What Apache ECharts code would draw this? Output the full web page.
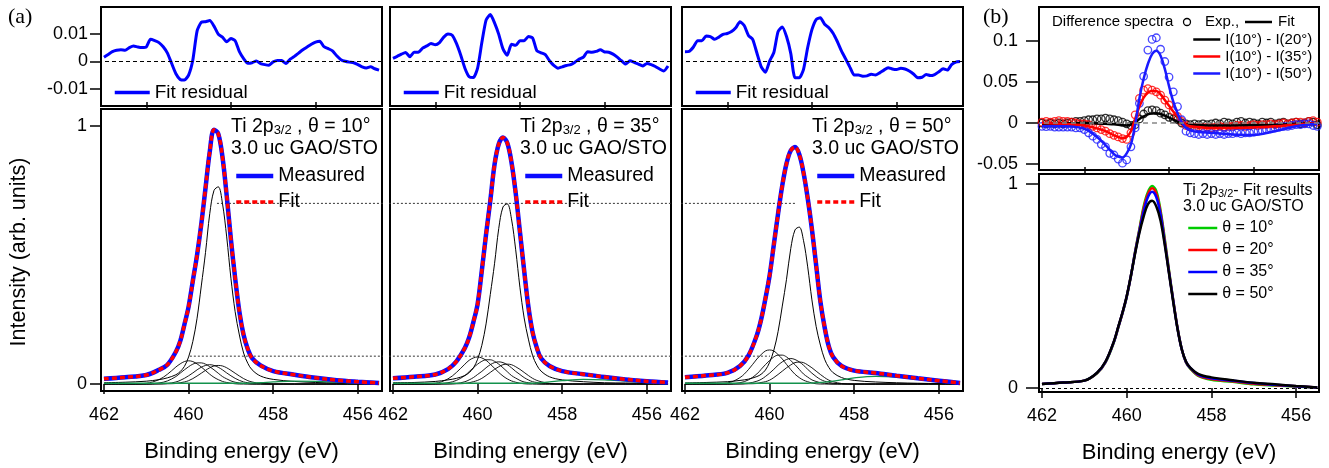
<!DOCTYPE html>
<html><head><meta charset="utf-8">
<script src="https://cdn.jsdelivr.net/npm/echarts@6/dist/echarts.min.js"></script>
<style>html,body{margin:0;padding:0;background:#fff}#c{width:1329px;height:468px}</style>
</head><body><div id="c"></div><script>
// ---------------- DATA ----------------
// energy grid for the fitted spectra (eV)
const E = [462.0,461.5,461.0,460.7,460.5,460.3,460.2,460.1,460.0,459.9,459.8,459.7,459.6,459.5,459.4,459.3,459.2,459.1,459.0,458.9,458.8,458.7,458.6,458.5,458.3,458.0,457.5,457.0,456.5,456.0,455.5];
// measured spectra (fit curves overlap them)
const meas10 = [0.020,0.026,0.035,0.055,0.075,0.125,0.165,0.23,0.30,0.40,0.50,0.62,0.76,0.90,0.985,0.97,0.88,0.73,0.56,0.41,0.28,0.19,0.135,0.10,0.072,0.05,0.036,0.024,0.015,0.009,0.004];
const meas35 = [0.022,0.028,0.037,0.058,0.088,0.14,0.18,0.24,0.31,0.44,0.58,0.71,0.85,0.93,0.955,0.935,0.86,0.74,0.59,0.44,0.30,0.20,0.14,0.10,0.07,0.05,0.038,0.027,0.018,0.011,0.006];
const meas50 = [0.026,0.033,0.043,0.07,0.11,0.19,0.25,0.33,0.42,0.54,0.66,0.77,0.855,0.905,0.918,0.89,0.82,0.72,0.60,0.46,0.32,0.22,0.145,0.105,0.07,0.052,0.043,0.032,0.022,0.013,0.004];
const fit10 = [0.020,0.026,0.035,0.055,0.075,0.125,0.165,0.23,0.30,0.40,0.50,0.62,0.76,0.90,0.985,0.97,0.88,0.73,0.56,0.41,0.28,0.19,0.135,0.10,0.072,0.05,0.036,0.024,0.015,0.009,0.004];
const fit35 = [0.022,0.028,0.037,0.058,0.088,0.14,0.18,0.24,0.31,0.44,0.58,0.71,0.85,0.93,0.955,0.935,0.86,0.74,0.59,0.44,0.30,0.20,0.14,0.10,0.07,0.05,0.038,0.027,0.018,0.011,0.006];
const fit50 = [0.026,0.033,0.043,0.07,0.11,0.19,0.25,0.33,0.42,0.54,0.66,0.77,0.855,0.905,0.918,0.89,0.82,0.72,0.60,0.46,0.32,0.22,0.145,0.105,0.07,0.052,0.043,0.032,0.022,0.013,0.004];
// fit components
const main10 = [0.005,0.007,0.011,0.017,0.024,0.036,0.048,0.068,0.105,0.165,0.255,0.38,0.51,0.66,0.75,0.764,0.70,0.57,0.41,0.28,0.19,0.12,0.08,0.055,0.031,0.018,0.010,0.006,0.004,0.003,0.002];
const main35 = [0.005,0.006,0.010,0.016,0.022,0.033,0.044,0.062,0.096,0.15,0.233,0.347,0.466,0.603,0.686,0.698,0.64,0.52,0.375,0.256,0.174,0.11,0.073,0.05,0.028,0.016,0.009,0.005,0.004,0.003,0.002];
const main50 = [0.004,0.006,0.009,0.014,0.019,0.029,0.038,0.054,0.084,0.131,0.203,0.302,0.406,0.525,0.597,0.608,0.557,0.454,0.326,0.223,0.151,0.096,0.064,0.044,0.025,0.014,0.008,0.005,0.003,0.002,0.002];
const compA10 = [0,0,0.003,0.017,0.038,0.066,0.078,0.087,0.09,0.087,0.078,0.066,0.052,0.038,0.026,0.017,0.010,0.006,0.003,0.001,0,0,0,0,0,0,0,0,0,0,0];
const compB10 = [0,0,0,0.004,0.012,0.029,0.042,0.055,0.067,0.077,0.082,0.082,0.077,0.067,0.055,0.042,0.029,0.020,0.012,0.007,0.004,0.002,0.001,0,0,0,0,0,0,0,0];
const compC10 = [0,0,0,0.001,0.002,0.008,0.014,0.022,0.032,0.043,0.055,0.065,0.072,0.075,0.072,0.065,0.055,0.043,0.032,0.022,0.014,0.008,0.005,0.002,0.001,0,0,0,0,0,0];
const compD10 = [0,0,0,0,0.001,0.002,0.005,0.008,0.013,0.021,0.031,0.042,0.053,0.063,0.070,0.072,0.070,0.063,0.053,0.042,0.031,0.021,0.013,0.008,0.002,0,0,0,0,0,0];
const compA35 = [0,0,0.003,0.020,0.045,0.077,0.092,0.101,0.105,0.101,0.092,0.077,0.061,0.045,0.031,0.020,0.012,0.007,0.003,0.001,0,0,0,0,0,0,0,0,0,0,0];
const compB35 = [0,0,0,0.005,0.014,0.033,0.048,0.063,0.077,0.088,0.094,0.094,0.088,0.077,0.063,0.048,0.033,0.023,0.014,0.008,0.005,0.002,0.001,0,0,0,0,0,0,0,0];
const compC35 = [0,0,0,0.001,0.002,0.009,0.016,0.025,0.037,0.049,0.063,0.075,0.083,0.086,0.083,0.075,0.063,0.049,0.037,0.025,0.016,0.009,0.006,0.002,0.001,0,0,0,0,0,0];
const compD35 = [0,0,0,0,0.001,0.002,0.005,0.009,0.014,0.022,0.033,0.045,0.057,0.067,0.075,0.077,0.075,0.067,0.057,0.045,0.033,0.022,0.014,0.009,0.002,0,0,0,0,0,0];
const compA50 = [0,0,0.004,0.025,0.056,0.097,0.114,0.128,0.132,0.128,0.114,0.097,0.076,0.056,0.038,0.025,0.015,0.009,0.004,0.001,0,0,0,0,0,0,0,0,0,0,0];
const compB50 = [0,0,0,0.005,0.016,0.039,0.057,0.075,0.091,0.105,0.112,0.112,0.105,0.091,0.075,0.057,0.039,0.027,0.016,0.010,0.005,0.003,0.001,0,0,0,0,0,0,0,0];
const compC50 = [0,0,0,0.001,0.003,0.011,0.018,0.029,0.042,0.057,0.073,0.086,0.095,0.099,0.095,0.086,0.073,0.057,0.042,0.029,0.018,0.011,0.007,0.003,0.001,0,0,0,0,0,0];
const compD50 = [0,0,0,0,0.001,0.002,0.006,0.009,0.015,0.025,0.037,0.050,0.063,0.074,0.083,0.085,0.083,0.074,0.063,0.050,0.037,0.025,0.015,0.009,0.002,0,0,0,0,0,0];
// backgrounds (green)
const bg10 = [0.003,0.003,0.003,0.003,0.003,0.003,0.003,0.003,0.003,0.003,0.003,0.003,0.003,0.003,0.003,0.003,0.003,0.003,0.003,0.003,0.003,0.003,0.003,0.004,0.005,0.008,0.011,0.010,0.007,0.004,0.002];
const bg35 = [0.003,0.003,0.003,0.003,0.003,0.003,0.003,0.003,0.003,0.003,0.003,0.003,0.003,0.003,0.003,0.003,0.003,0.003,0.003,0.003,0.003,0.003,0.004,0.005,0.008,0.013,0.018,0.016,0.011,0.006,0.003];
const bg50 = [0.003,0.003,0.003,0.003,0.003,0.003,0.003,0.003,0.003,0.003,0.003,0.003,0.003,0.003,0.003,0.003,0.003,0.003,0.004,0.005,0.006,0.007,0.009,0.011,0.016,0.024,0.030,0.027,0.018,0.009,0.004];
// dotted guide levels (drawn from the θ=10° panel to the θ=50° panel)
const guideLevel = [0.70, 0.108];
const guideFrom = [459.33, 459.97];
const guideTo = [459.38, 459.99];

// residual / experimental difference grid (eV)
const fineE = [462.0,461.9,461.8,461.7,461.6,461.5,461.4,461.3,461.2,461.1,461.0,460.9,460.8,460.7,460.6,460.5,460.4,460.3,460.2,460.1,460.0,459.9,459.8,459.7,459.6,459.5,459.4,459.3,459.2,459.1,459.0,458.9,458.8,458.7,458.6,458.5,458.4,458.3,458.2,458.1,458.0,457.9,457.8,457.7,457.6,457.5,457.4,457.3,457.2,457.1,457.0,456.9,456.8,456.7,456.6,456.5,456.4,456.3,456.2,456.1,456.0,455.9,455.8,455.7,455.6,455.5];
const res10 = [0.0015,0.0025,0.0035,0.004,0.0042,0.004,0.005,0.0056,0.0052,0.005,0.0052,0.008,0.0075,0.0068,0.0053,0.003,-0.0008,-0.0045,-0.0066,-0.0068,-0.005,0.0005,0.011,0.0142,0.0144,0.0148,0.0128,0.0099,0.0088,0.0071,0.0083,0.0075,0.0035,0.001,-0.0007,-0.0005,0.0001,-0.0008,-0.0012,-0.0014,-0.0002,0.0003,0.0003,-0.0008,0.0008,0.0018,0.003,0.0042,0.0052,0.0062,0.007,0.0073,0.0053,0.0046,0.0038,0.002,0.0006,0.0,-0.0003,-0.0005,-0.0012,-0.002,-0.0024,-0.002,-0.0027,-0.0032];
const res35 = [0.0011,0.0018,0.0026,0.0032,0.0017,0.0033,0.0033,0.0048,0.0056,0.0065,0.006,0.0068,0.0088,0.0099,0.0095,0.0065,0.0023,-0.0025,-0.0056,-0.0059,-0.0025,0.0068,0.015,0.017,0.014,0.0098,0.0045,0.0022,0.0062,0.0058,0.0075,0.0075,0.009,0.0085,0.0038,0.0031,0.0024,0.0002,-0.0015,-0.0025,-0.002,-0.0015,-0.0012,-0.0003,0.0008,0.0015,0.0035,0.0033,0.0036,0.0042,0.0034,0.0033,0.0026,0.0015,0.0002,-0.001,0.0002,-0.0004,-0.001,-0.0017,-0.0008,-0.0012,-0.0019,-0.0028,-0.0035,-0.0017];
const res50 = [0.0035,0.0036,0.0052,0.0075,0.0075,0.0092,0.009,0.008,0.0088,0.0098,0.0101,0.0108,0.0122,0.0144,0.013,0.0094,0.008,0.003,-0.0019,-0.004,0.0001,0.0032,0.0108,0.0125,0.009,0.0029,-0.006,-0.006,-0.003,0.005,0.0115,0.0152,0.0158,0.0135,0.0122,0.0102,0.0072,0.0037,0.0008,-0.0022,-0.005,-0.005,-0.0054,-0.0053,-0.0047,-0.005,-0.0042,-0.0032,-0.0023,-0.0028,-0.003,-0.0025,-0.0028,-0.0035,-0.0046,-0.006,-0.0058,-0.0048,-0.0052,-0.0048,-0.0038,-0.0027,-0.0032,-0.0012,-0.0003,-0.0001];
// (b) difference spectra: experiment (circles)
const exp20 = [0.0,-0.001,0.0,-0.001,0.0,-0.001,0.0,0.001,0.002,0.002,0.003,0.004,0.004,0.005,0.005,0.006,0.005,0.004,0.003,0.001,-0.001,-0.003,-0.002,0.005,0.011,0.015,0.016,0.015,0.012,0.010,0.007,0.005,0.004,0.000,-0.001,-0.002,-0.001,-0.002,-0.001,-0.002,-0.001,0.0,-0.001,0.001,0.0,-0.001,0.001,0.002,0.0,0.001,0.0,-0.001,0.001,0.0,0.001,-0.001,0.0,0.001,-0.001,0.0,0.001,-0.001,0.0,0.002,0.001,-0.002];
const exp35 = [0.001,0.002,0.001,0.002,0.003,0.002,0.002,0.001,0.0,-0.001,-0.001,-0.002,-0.004,-0.006,-0.008,-0.010,-0.013,-0.015,-0.017,-0.019,-0.020,-0.012,0.010,0.030,0.040,0.042,0.040,0.038,0.034,0.028,0.022,0.015,0.008,0.002,-0.003,-0.005,-0.006,-0.005,-0.006,-0.005,-0.006,-0.005,-0.004,-0.005,-0.004,-0.004,-0.003,-0.003,-0.004,-0.003,-0.002,-0.003,-0.002,-0.002,-0.001,-0.002,-0.001,0.0,-0.001,0.0,0.001,0.001,0.0,0.002,0.003,0.001];
const exp50 = [-0.004,-0.0045,-0.004,-0.005,-0.005,-0.005,-0.005,-0.005,-0.006,-0.006,-0.008,-0.012,-0.016,-0.020,-0.026,-0.029,-0.037,-0.039,-0.044,-0.049,-0.045,-0.029,-0.006,0.024,0.057,0.089,0.102,0.104,0.090,0.075,0.056,0.038,0.020,0.004,-0.010,-0.012,-0.013,-0.014,-0.013,-0.014,-0.013,-0.014,-0.013,-0.014,-0.013,-0.013,-0.012,-0.013,-0.012,-0.012,-0.011,-0.010,-0.009,-0.008,-0.007,-0.006,-0.005,-0.004,-0.004,-0.003,-0.002,-0.002,-0.001,-0.001,-0.003,-0.004];
// (b) difference spectra: fits (lines)
const dfit20 = [-0.001,-0.0005,0.0,-0.0005,-0.001,-0.0015,-0.002,-0.0028,-0.003,-0.002,0.001,0.005,0.008,0.0105,0.0115,0.0118,0.011,0.009,0.0065,0.004,0.0015,-0.0005,-0.0015,-0.002,-0.0025,-0.003,-0.003,-0.0025,-0.002,-0.001,0.0];
const dfit35 = [0.0,-0.001,-0.003,-0.0065,-0.010,-0.015,-0.017,-0.0185,-0.017,-0.010,0.005,0.020,0.031,0.037,0.039,0.039,0.035,0.028,0.021,0.014,0.008,0.002,-0.002,-0.004,-0.005,-0.006,-0.006,-0.0055,-0.004,-0.002,0.0];
const dfit50 = [-0.004,-0.004,-0.007,-0.017,-0.027,-0.038,-0.041,-0.042,-0.037,-0.026,-0.002,0.030,0.054,0.072,0.084,0.088,0.082,0.066,0.045,0.026,0.012,0.001,-0.006,-0.009,-0.011,-0.012,-0.014,-0.0145,-0.010,-0.004,-0.001];
// (b) fit results for four angles
const fr10 = [0.020,0.027,0.036,0.072,0.125,0.225,0.295,0.365,0.445,0.55,0.67,0.78,0.89,0.96,0.99,0.965,0.87,0.73,0.575,0.43,0.295,0.19,0.125,0.095,0.058,0.040,0.030,0.018,0.012,0.007,0.003];
const fr20 = [0.020,0.027,0.036,0.073,0.127,0.227,0.297,0.367,0.447,0.55,0.668,0.775,0.88,0.95,0.979,0.952,0.86,0.72,0.57,0.428,0.294,0.19,0.126,0.097,0.061,0.044,0.033,0.021,0.014,0.008,0.003];
const fr35 = [0.020,0.027,0.036,0.074,0.128,0.228,0.298,0.368,0.448,0.55,0.665,0.77,0.865,0.935,0.962,0.935,0.85,0.71,0.565,0.425,0.292,0.19,0.128,0.099,0.064,0.048,0.036,0.024,0.016,0.009,0.003];
const fr50 = [0.020,0.027,0.036,0.075,0.13,0.23,0.30,0.37,0.45,0.55,0.66,0.76,0.84,0.90,0.918,0.89,0.82,0.70,0.56,0.42,0.29,0.19,0.13,0.10,0.068,0.052,0.038,0.026,0.018,0.010,0.003];
// tick labels
const xMajor = [462,460,458,456];
const xMinor = [461,459,457];
const resTicks = [-0.01,0,0.01];
const mainTicks = [0,1];
const diffTicks = [-0.05,0,0.05,0.1];
const angles = ['10°','35°','50°'];

// ---------------- CHART ----------------
const FONT = 'Liberation Sans, Arial, sans-serif';
const pts = (xs, ys) => xs.map((x, i) => [x, ys[i]]);
const XMIN = 455.43, XMAX = 462.07;
const PL = [101, 390, 682], PW = 281;
const grids = [], xAxes = [], yAxes = [], series = [], legends = [], graphics = [];

function xAx(g, opt) {
  return Object.assign({gridIndex: g, type: 'value', inverse: true, min: XMIN, max: XMAX,
    axisLine: {show: false}, splitLine: {show: false}, axisTick: {show: false}, axisLabel: {show: false}}, opt || {});
}
function yAx(g, min, max, opt) {
  return Object.assign({gridIndex: g, type: 'value', min, max,
    axisLine: {show: false}, splitLine: {show: false}, axisTick: {show: false}, axisLabel: {show: false}}, opt || {});
}
const majorTick = {show: true, customValues: xMajor, length: 10, lineStyle: {color: '#000', width: 1.5}};
const xLab = {show: true, customValues: xMajor, fontSize: 18, color: '#000', fontFamily: FONT, margin: 15};
const xName = {name: 'Binding energy (eV)', nameLocation: 'middle', nameGap: 50, nameTextStyle: {fontSize: 22, color: '#000', fontFamily: FONT}};

for (let k = 0; k < 3; k++) {
  grids.push({left: PL[k], top: 7, width: PW, height: 99, show: true, borderColor: '#000', borderWidth: 2});
}
for (let k = 0; k < 3; k++) {
  grids.push({left: PL[k], top: 109, width: PW, height: 283, show: true, borderColor: '#000', borderWidth: 2});
}
grids.push({left: 1039, top: 7, width: 280, height: 163, show: true, borderColor: '#000', borderWidth: 2});
grids.push({left: 1039, top: 174, width: 280, height: 218, show: true, borderColor: '#000', borderWidth: 2});

for (let k = 0; k < 3; k++) xAxes.push(xAx(k));
for (let k = 0; k < 3; k++) xAxes.push(xAx(3 + k, Object.assign({axisTick: majorTick, axisLabel: xLab}, xName)));
xAxes.push(Object.assign(xAx(6), {min: 455.46}));
xAxes.push(Object.assign(xAx(7, Object.assign({axisTick: majorTick, axisLabel: xLab}, xName)), {min: 455.46}));
const minorTick = {show: true, customValues: xMinor, length: 7, lineStyle: {color: '#000', width: 1.5}};
for (let k = 0; k < 3; k++) xAxes.push(xAx(3 + k, {axisTick: minorTick}));
xAxes.push(Object.assign(xAx(7, {axisTick: minorTick}), {min: 455.46}));

const yLabStyle = (vals, margin) => ({show: true, customValues: vals, fontSize: 18, color: '#000', fontFamily: FONT, margin,
  formatter: v => (Math.abs(v) < 1e-9 ? '0' : String(+v.toFixed(3)))});
const yTick = (vals, len) => ({show: true, customValues: vals, length: len, lineStyle: {color: '#000', width: 1.5}});
yAxes.push(yAx(0, -0.01625, 0.01975, {axisTick: yTick(resTicks, 11), axisLabel: yLabStyle(resTicks, 13)}));
yAxes.push(yAx(1, -0.01625, 0.01975));
yAxes.push(yAx(2, -0.01625, 0.01975));
yAxes.push(yAx(3, -0.027, 1.0656, {axisTick: yTick(mainTicks, 11), axisLabel: yLabStyle(mainTicks, 14)}));
yAxes.push(yAx(4, -0.027, 1.0656));
yAxes.push(yAx(5, -0.027, 1.0656));
yAxes.push(yAx(6, -0.0573, 0.1415, {axisTick: yTick(diffTicks, 13), axisLabel: yLabStyle(diffTicks, 21)}));
yAxes.push(yAx(7, -0.0196, 1.049, {axisTick: yTick(mainTicks, 13), axisLabel: yLabStyle(mainTicks, 21)}));

const line = (name, xi, data, color, width, extra) => Object.assign({
  name, type: 'line', xAxisIndex: xi, yAxisIndex: xi, data, symbol: 'none', smooth: 0.35,
  lineStyle: {color, width}, itemStyle: {color, opacity: 0}, silent: true, animation: false
}, extra || {});

const measArr = [meas10, meas35, meas50], fitArr = [fit10, fit35, fit50];
const mainArr = [main10, main35, main50];
const compArr = [[compA10, compB10, compC10, compD10], [compA35, compB35, compC35, compD35], [compA50, compB50, compC50, compD50]];
const bgArr = [bg10, bg35, bg50];
const resArr = [res10, res35, res50];

for (let k = 0; k < 3; k++) {
  series.push(line('Fit residual', k, pts(fineE, resArr[k]), '#0000ff', 3, {
    smooth: 0.2,
    markLine: {silent: true, symbol: 'none', label: {show: false}, animation: false,
      lineStyle: {color: '#000', width: 1, type: [4, 3]}, data: [{yAxis: 0}]}
  }));
  const xi = 3 + k;
  for (let g = 0; g < 2; g++) {
    let a, b;
    if (k === 0) { a = guideFrom[g]; b = XMIN - 0.12; }
    else if (k === 1) { a = XMAX + 0.12; b = XMIN - 0.12; }
    else { a = XMAX + 0.12; b = guideTo[g]; }
    series.push(line('guide', xi, [[a, guideLevel[g]], [b, guideLevel[g]]], '#333', 1,
      {smooth: false, clip: false, lineStyle: {color: '#333', width: 1, type: [2, 2]}, z: 1}));
  }
  series.push(line('comp', xi, pts(E, mainArr[k]), '#000', 1, {z: 2}));
  compArr[k].forEach(c => series.push(line('comp', xi, pts(E, c), '#000', 0.9, {z: 2})));
  series.push(line('bg', xi, pts(E, bgArr[k]), '#13924c', 1.3, {z: 2}));
  series.push(line('Measured', xi, pts(E, measArr[k]), '#0a0aff', 4.5, {z: 3}));
  series.push(line('Fit', xi, pts(E, fitArr[k]), '#ff0000', 3.5, {z: 4, lineStyle: {color: '#ff0000', width: 3.5, type: [5, 3]}}));
}
const expCol = ['#000000', '#ff0000', '#1a1aff'];
[exp20, exp35, exp50].forEach((d, i) => series.push({
  name: 'exp' + i, type: 'scatter', xAxisIndex: 6, yAxisIndex: 6, data: pts(fineE, d), symbol: 'circle', symbolSize: 7.5,
  itemStyle: {color: 'rgba(0,0,0,0)', borderColor: expCol[i], borderWidth: 1.3}, silent: true, animation: false, z: 2
}));
series.push(line('zero', 6, [], '#888', 1, {markLine: {silent: true, symbol: 'none', label: {show: false}, animation: false,
  lineStyle: {color: '#888', width: 1.5, type: [5, 4]}, data: [{yAxis: 0}]}}));
series.push(line('I(10°) - I(20°)', 6, pts(E, dfit20), '#000000', 2.5, {z: 3}));
series.push(line('I(10°) - I(35°)', 6, pts(E, dfit35), '#ff0000', 2.5, {z: 3}));
series.push(line('I(10°) - I(50°)', 6, pts(E, dfit50), '#1a1aff', 2.5, {z: 3}));
series.push(line('zero2', 7, [], '#000', 1, {markLine: {silent: true, symbol: 'none', label: {show: false}, animation: false,
  lineStyle: {color: '#000', width: 1, type: [3, 3]}, data: [{yAxis: 0}]}}));
series.push(line('θ = 10°', 7, pts(E, fr10), '#00cc00', 2.5, {z: 3}));
series.push(line('θ = 20°', 7, pts(E, fr20), '#ff0000', 2.5, {z: 3}));
series.push(line('θ = 35°', 7, pts(E, fr35), '#0000ff', 2.5, {z: 3}));
series.push(line('θ = 50°', 7, pts(E, fr50), '#000000', 2.5, {z: 3}));

const legBase = {orient: 'vertical', padding: 0, selectedMode: false, itemStyle: {opacity: 0}};
const legText = (s) => ({color: '#000', fontFamily: FONT, fontSize: s});
const item = (name, color, width, type) => ({name, lineStyle: {color, width, type: type || 'solid', opacity: 1}, itemStyle: {opacity: 0}});
for (let k = 0; k < 3; k++) {
  legends.push(Object.assign({}, legBase, {data: [item('Measured', '#0a0aff', 4.5), item('Fit', '#ff0000', 3.5, [5, 3])],
    left: PL[k] + 133, top: 166, itemWidth: 37, itemHeight: 14, itemGap: 6, textStyle: legText(19.5)}));
  legends.push(Object.assign({}, legBase, {data: [item('Fit residual', '#0000ff', 3.5)], left: PL[k] + 12, top: 83,
    itemWidth: 35, itemHeight: 14, textStyle: legText(19)}));
}
legends.push(Object.assign({}, legBase, {data: [item('I(10°) - I(20°)', '#000000', 2.5), item('I(10°) - I(35°)', '#ff0000', 2.5), item('I(10°) - I(50°)', '#1a1aff', 2.5)],
  left: 1192, top: 32, itemWidth: 27, itemHeight: 14, itemGap: 2, textStyle: legText(15)}));
legends.push(Object.assign({}, legBase, {data: [item('θ = 10°', '#00cc00', 2.5), item('θ = 20°', '#ff0000', 2.5), item('θ = 35°', '#0000ff', 2.5), item('θ = 50°', '#000000', 2.5)],
  left: 1187, top: 220, itemWidth: 29, itemHeight: 14, itemGap: 6, textStyle: legText(16)}));

const txt = (x, y, text, size, extra) => Object.assign({type: 'text', x, y, silent: true,
  style: Object.assign({text, fill: '#000', font: size + 'px ' + FONT, textAlign: 'left', textVerticalAlign: 'middle', align: 'left', verticalAlign: 'middle'}, (extra || {}))});
const rich = (size) => ({m: {fontSize: size, fontFamily: FONT, lineHeight: 24, verticalAlign: 'bottom'},
  s: {fontSize: Math.round(size * 0.68), fontFamily: FONT, lineHeight: 14, verticalAlign: 'bottom'}});
for (let k = 0; k < 3; k++) {
  graphics.push(txt(PL[k] + 130, 125, '{m|Ti 2p}{s|3/2}{m| , θ = ' + angles[k] + '}', 19.5, {rich: rich(19.5)}));
  graphics.push(txt(PL[k] + 130, 149, '3.0 uc GAO/STO', 19.5));
}
graphics.push(txt(8, 17, '(a)', 22, {font: '22px Liberation Serif, Times New Roman, serif'}));
graphics.push(txt(983, 17, '(b)', 22, {font: '22px Liberation Serif, Times New Roman, serif'}));
graphics.push(Object.assign(txt(19, 252, 'Intensity (arb. units)', 21.5, {textAlign: 'center', align: 'center'}), {rotation: Math.PI / 2}));
graphics.push(txt(1052, 22, 'Difference spectra', 15));
graphics.push({type: 'circle', shape: {cx: 1187, cy: 22, r: 3.5}, style: {fill: 'none', stroke: '#000', lineWidth: 1.3}, silent: true});
graphics.push(txt(1205, 22, 'Exp.,', 15));
graphics.push({type: 'line', shape: {x1: 1245, y1: 22, x2: 1272, y2: 22}, style: {stroke: '#000', lineWidth: 2.5}, silent: true});
graphics.push(txt(1278, 22, 'Fit', 15));
graphics.push(txt(1183, 187, '{m|Ti 2p}{s|3/2}{m|- Fit results}', 16, {rich: rich(16)}));
graphics.push(txt(1183, 207, '3.0 uc GAO/STO', 16));

const chart = echarts.init(document.getElementById('c'), null, {renderer: 'canvas'});
chart.setOption({
  animation: false, backgroundColor: '#fff',
  textStyle: {fontFamily: FONT},
  grid: grids, xAxis: xAxes, yAxis: yAxes, series, legend: legends, graphic: graphics
});
</script></body></html>
